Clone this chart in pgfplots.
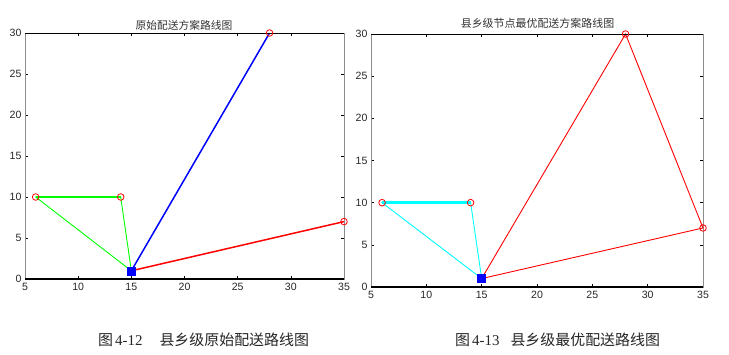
\documentclass[border=0pt]{standalone}
\usepackage{pgfplots}
\pgfplotsset{compat=1.18}
\usepackage{fontspec}
\setmainfont{Liberation Sans}
\newfontfamily\cjk{Noto Sans CJK SC}
\newfontfamily\serifnum{Liberation Serif}
\definecolor{mgreen}{RGB}{0,255,0}
\definecolor{mblue}{RGB}{0,0,255}
\definecolor{mred}{RGB}{255,0,0}
\definecolor{mcyan}{RGB}{0,255,255}
\pgfplotsset{
  mstyle/.style={
    scale only axis, clip=false,
    xmin=5, xmax=35, ymin=0, ymax=30,
    xtick={5,10,...,35}, ytick={0,5,...,30},
    tick align=inside, major tick length=3bp,
    tick style={black, line width=0.6bp},
    axis line style={draw=black!45, line width=0.8bp},
    ticklabel style={font=\fontsize{10.6}{12}\selectfont, text=black!85},
    /pgf/number format/assume math mode=true,
    xticklabel style={yshift=-1bp},
  }
}
\begin{document}
\begin{tikzpicture}[x=1bp,y=1bp]
\path[use as bounding box] (0,0) rectangle (729,354);
% left
\begin{axis}[mstyle, at={(25bp,75bp)}, anchor=south west, width=319bp, height=246bp]
\addplot[mgreen, line width=0.9bp] coordinates {(15,1) (6,10) (14,10) (15,1)};
\addplot[mgreen, line width=2.8bp] coordinates {(6,10) (14,10)};
\addplot[mblue, line width=1.5bp] coordinates {(15,1) (28,30)};
\addplot[mred, line width=1.5bp] coordinates {(15,1) (35,7)};
\addplot[only marks, mark=o, mark size=3.3bp, mred, mark options={line width=0.8bp}] coordinates {(6,10) (14,10) (28,30) (35,7)};
\addplot[only marks, mark=square*, mark size=4bp, mblue] coordinates {(15,1)};
\draw[black, line width=0.7bp] (rel axis cs:0,1) -- (rel axis cs:1,1);
\draw[black, line width=1.8bp] (rel axis cs:0,0) -- (rel axis cs:1,0);
\end{axis}
% right
\begin{axis}[mstyle, at={(371bp,67bp)}, anchor=south west, width=332bp, height=253bp]
\addplot[mcyan, line width=0.9bp] coordinates {(15,1) (6,10) (14,10) (15,1)};
\addplot[mcyan, line width=2.8bp] coordinates {(6,10) (14,10)};
\addplot[mred, line width=0.9bp] coordinates {(15,1) (28,30) (35,7) (15,1)};
\addplot[only marks, mark=o, mark size=3.3bp, mred, mark options={line width=0.8bp}] coordinates {(6,10) (14,10) (28,30) (35,7)};
\addplot[only marks, mark=square*, mark size=4bp, mblue] coordinates {(15,1)};
\draw[black, line width=0.7bp] (rel axis cs:0,1) -- (rel axis cs:1,1);
\draw[black, line width=1.8bp] (rel axis cs:0,0) -- (rel axis cs:1,0);
\end{axis}
% titles
\node[font=\cjk\fontsize{10.8}{12}\selectfont, text=black!80, inner sep=0pt] at (184,329) {原始配送方案路线图};
\node[font=\cjk\fontsize{11}{12}\selectfont, text=black!80, inner sep=0pt] at (537.5,331) {县乡级节点最优配送方案路线图};
% captions
\node[anchor=west, inner sep=0pt, text=black!85, font=\fontsize{15}{16}\selectfont] at (98,14) {{\cjk 图}\hspace{2bp}{\serifnum 4-12}\hspace{17bp}{\cjk 县乡级原始配送路线图}};
\node[anchor=west, inner sep=0pt, text=black!85, font=\fontsize{15}{16}\selectfont] at (455,14) {{\cjk 图}\hspace{2bp}{\serifnum 4-13}\hspace{11bp}{\cjk 县乡级最优配送路线图}};
\end{tikzpicture}
\end{document}
